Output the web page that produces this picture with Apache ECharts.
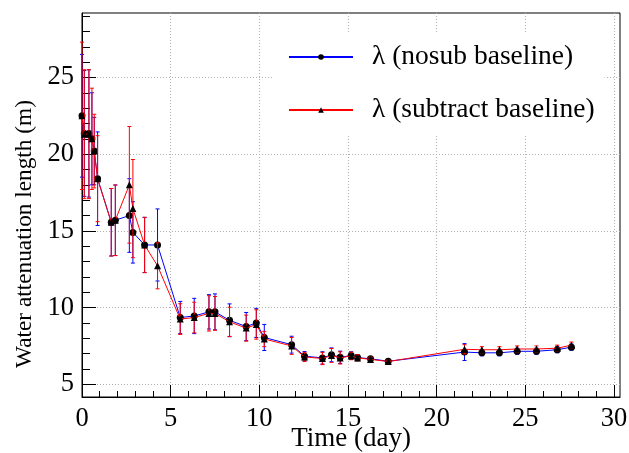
<!DOCTYPE html>
<html>
<head>
<meta charset="utf-8">
<script src="https://cdn.jsdelivr.net/npm/echarts@6/dist/echarts.min.js"></script>
<style>html,body{margin:0;padding:0;background:#fff}#c{width:629px;height:453px}</style>
</head>
<body>
<div id="c"></div>
<script>
// Time (day)
const days = [0.0, 0.13, 0.39, 0.56, 0.69, 0.88, 1.65, 1.88, 2.67, 2.87, 3.53, 4.26,
  5.54, 6.33, 7.16, 7.5, 8.32, 9.26, 9.83, 10.28, 11.82, 12.55, 13.56, 14.07, 14.56,
  15.18, 15.54, 16.27, 17.27, 21.57, 22.55, 23.54, 24.54, 25.63, 26.8, 27.6];
// lambda, no baseline subtraction
const nosub = [22.5, 21.35, 21.35, 21.0, 20.2, 18.4, 15.56, 15.69, 16.0, 14.9, 14.08, 14.08,
  9.35, 9.45, 9.72, 9.72, 9.17, 8.76, 9.0, 8.05, 7.58, 6.83, 6.72, 6.92, 6.76,
  6.87, 6.74, 6.66, 6.5, 7.1, 7.05, 7.05, 7.15, 7.15, 7.25, 7.42];
const nosubErr = [4.0, 4.1, 4.15, 3.0, 2.2, 3.05, 2.2, 2.3, 2.4, 2.0, 1.8, 2.35,
  1.05, 1.15, 1.12, 1.17, 1.07, 0.92, 0.95, 0.85, 0.55, 0.3, 0.4, 0.45, 0.4,
  0.25, 0.2, 0.15, 0.1, 0.55, 0.2, 0.2, 0.2, 0.2, 0.2, 0.2];
// lambda, baseline subtracted
const subtr = [22.5, 21.3, 21.3, 21.0, 20.2, 18.4, 15.56, 15.69, 18.0, 16.45, 14.08, 12.72,
  9.25, 9.35, 9.62, 9.62, 9.07, 8.66, 8.9, 7.95, 7.5, 6.78, 6.68, 6.88, 6.72,
  6.85, 6.72, 6.62, 6.48, 7.28, 7.25, 7.25, 7.3, 7.3, 7.35, 7.55];
const subtrErr = [4.8, 4.2, 4.2, 3.3, 2.4, 2.8, 2.2, 2.3, 3.8, 3.2, 1.8, 1.5,
  1.0, 1.0, 1.15, 1.1, 0.95, 0.85, 0.96, 0.5, 0.55, 0.3, 0.4, 0.45, 0.4,
  0.25, 0.2, 0.15, 0.1, 0.3, 0.2, 0.2, 0.2, 0.2, 0.2, 0.2];

const xMajor = [0, 5, 10, 15, 20, 25, 30];
const xMinor = Array.from({length: 31}, (_, i) => i);
const yMajor = [5, 10, 15, 20, 25];
const yMinor = Array.from({length: 25}, (_, i) => i + 5);

const nameA = 'λ (nosub baseline)';
const nameB = 'λ (subtract baseline)';
const FONT = '"Liberation Serif", "Times New Roman", serif';

function errData(ys, es) { return days.map((d, i) => [d, ys[i] - es[i], ys[i] + es[i]]); }
function lineData(ys) { return days.map((d, i) => [d, ys[i]]); }
function errRender(color) {
  return function (params, api) {
    const x = api.value(0), lo = api.value(1), hi = api.value(2);
    const t = api.coord([x, hi]), b = api.coord([x, lo]);
    const w = 2;
    const st = {stroke: color, lineWidth: 1};
    return {type: 'group', children: [
      {type: 'line', shape: {x1: t[0], y1: t[1], x2: b[0], y2: b[1]}, style: st},
      {type: 'line', shape: {x1: t[0] - w, y1: t[1], x2: t[0] + w, y2: t[1]}, style: st},
      {type: 'line', shape: {x1: b[0] - w, y1: b[1], x2: b[0] + w, y2: b[1]}, style: st}
    ]};
  };
}

const chart = echarts.init(document.getElementById('c'), null, {renderer: 'canvas'});
const gridLine = {show: true, lineStyle: {color: '#b0b0b0', type: [1, 2], width: 1}};
chart.setOption({
  animation: false,
  grid: {left: 82, right: 9, top: 13, bottom: 56, show: true, borderColor: '#000', borderWidth: 1,
    containLabel: false, outerBoundsMode: 'none'},
  xAxis: [{
    type: 'value', min: 0, max: 30.34, position: 'bottom',
    name: 'Time (day)', nameLocation: 'middle', nameGap: 28, nameMoveOverlap: false,
    nameTextStyle: {fontFamily: FONT, fontSize: 27, color: '#000'},
    axisLine: {show: true, lineStyle: {color: '#000', width: 1}},
    axisTick: {show: true, inside: true, length: 12, customValues: xMajor, lineStyle: {color: '#000'}},
    axisLabel: {customValues: xMajor, fontFamily: FONT, fontSize: 26.5, color: '#000', margin: 9},
    splitLine: gridLine
  }, {
    type: 'value', min: 0, max: 30.34, position: 'bottom', offset: 0,
    axisLine: {show: false},
    axisTick: {show: true, inside: true, length: 6, customValues: xMinor, lineStyle: {color: '#000'}},
    axisLabel: {show: false}, splitLine: {show: false}
  }],
  yAxis: [{
    type: 'value', min: 4.17, max: 29.2, position: 'left',
    name: 'Water attenuation length (m)', nameLocation: 'middle', nameGap: 40,
    nameTextStyle: {fontFamily: FONT, fontSize: 23.3, color: '#000', padding: [0, 58, 0, 0]},
    axisLine: {show: true, lineStyle: {color: '#000', width: 1}},
    axisTick: {show: true, inside: true, length: 14, customValues: yMajor, lineStyle: {color: '#000'}},
    axisLabel: {customValues: yMajor, fontFamily: FONT, fontSize: 26.5, color: '#000', margin: 8},
    splitLine: gridLine
  }, {
    type: 'value', min: 4.17, max: 29.2, position: 'left', offset: 0,
    axisLine: {show: false},
    axisTick: {show: true, inside: true, length: 8, customValues: yMinor, lineStyle: {color: '#000'}},
    axisLabel: {show: false}, splitLine: {show: false}
  }],
  legend: {
    orient: 'vertical', left: 274, top: 32,
    data: [nameA, nameB],
    itemWidth: 64, itemHeight: 7, itemGap: 25,
    padding: [11, 10, 11, 14],
    backgroundColor: '#fff',
    selectedMode: false,
    textStyle: {fontFamily: FONT, fontSize: 27.5, color: '#000', padding: [0, 0, 0, 14]}
  },
  series: [
    {type: 'custom', name: 'errA', data: errData(nosub, nosubErr), renderItem: errRender('#0000ff'), z: 1, silent: true},
    {type: 'line', name: nameA, data: lineData(nosub), z: 2,
      lineStyle: {color: '#0000ff', width: 1}, itemStyle: {color: '#000'},
      symbol: 'circle', symbolSize: 7, showAllSymbol: true},
    {type: 'custom', name: 'errB', data: errData(subtr, subtrErr), renderItem: errRender('#ff0000'), z: 3, silent: true},
    {type: 'line', name: nameB, data: lineData(subtr), z: 4,
      lineStyle: {color: '#ff0000', width: 1}, itemStyle: {color: '#000'},
      symbol: 'triangle', symbolSize: 7, showAllSymbol: true}
  ]
});
</script>
</body>
</html>
